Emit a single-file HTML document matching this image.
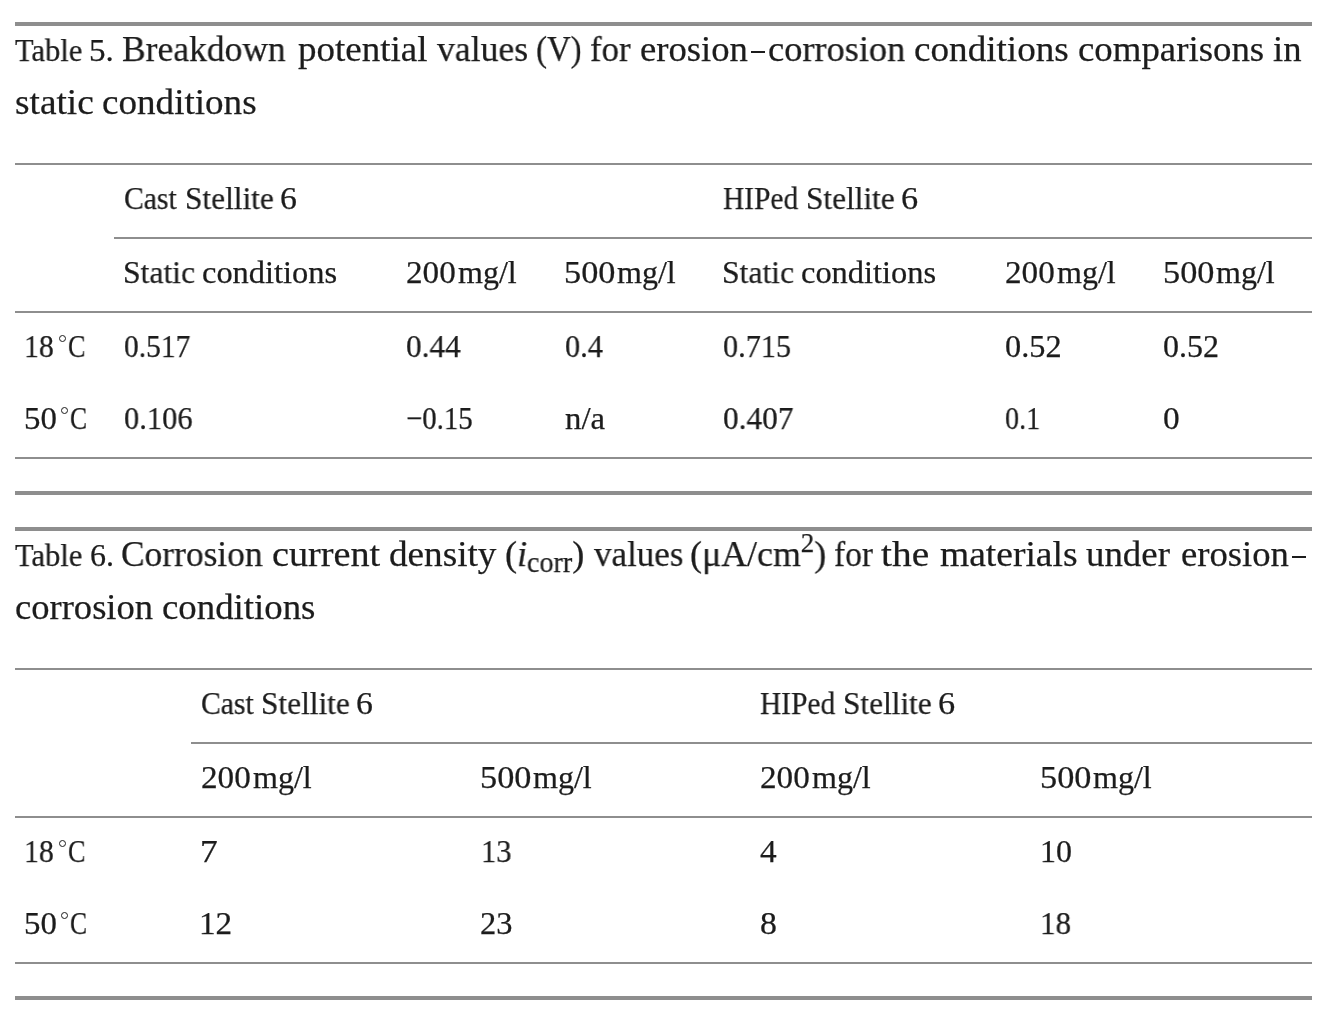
<!DOCTYPE html>
<html><head><meta charset="utf-8"><title>Tables</title><style>
html,body{margin:0;padding:0;background:#fff;width:1336px;height:1032px;overflow:hidden}
body{position:relative;font-family:"Liberation Serif",serif;color:#1c1c1c}
.t{position:absolute;white-space:pre;transform-origin:0 0}
.r{position:absolute}
.deg{position:absolute;width:7.3px;height:7.3px;box-sizing:border-box;border:1.5px solid #1c1c1c;border-radius:50%}

.t{-webkit-text-stroke:0.25px #1c1c1c;will-change:transform}
.th{display:inline-block;width:0.12em}
.sb{font-size:0.78em;position:relative;top:0.2em}
.sp{font-size:0.75em;position:relative;top:-0.5em}

</style></head><body>
<div class="r" style="left:750.5px;top:51.4px;width:14.80px;height:2.1px;background:#1c1c1c"></div>
<div class="r" style="left:1291.6px;top:556.4px;width:14.70px;height:2.1px;background:#1c1c1c"></div>
<div class="r" style="left:15px;top:22px;width:1297.00px;height:4px;background:#8e8e8e"></div>
<div class="r" style="left:15px;top:163px;width:1297.00px;height:2px;background:#8e8e8e"></div>
<div class="r" style="left:114px;top:237px;width:1198.00px;height:2px;background:#8e8e8e"></div>
<div class="r" style="left:15px;top:311px;width:1297.00px;height:2px;background:#8e8e8e"></div>
<div class="r" style="left:15px;top:457px;width:1297.00px;height:2px;background:#8e8e8e"></div>
<div class="r" style="left:15px;top:491px;width:1297.00px;height:4px;background:#8e8e8e"></div>
<div class="r" style="left:15px;top:527px;width:1297.00px;height:4px;background:#8e8e8e"></div>
<div class="r" style="left:15px;top:668px;width:1297.00px;height:2px;background:#8e8e8e"></div>
<div class="r" style="left:191px;top:742px;width:1121.00px;height:2px;background:#8e8e8e"></div>
<div class="r" style="left:15px;top:816px;width:1297.00px;height:2px;background:#8e8e8e"></div>
<div class="r" style="left:15px;top:962px;width:1297.00px;height:2px;background:#8e8e8e"></div>
<div class="r" style="left:15px;top:996px;width:1297.00px;height:4px;background:#8e8e8e"></div>
<span class="t" style="left:14.50px;top:34px;font-size:32px;line-height:32px;transform:scaleX(0.9529)">Table</span>
<span class="t" style="left:88.63px;top:34px;font-size:32px;line-height:32px;transform:scaleX(1.0350)">5.</span>
<span class="t" style="left:122.23px;top:31px;font-size:36.5px;line-height:36.5px;transform:scaleX(0.9725)">Breakdown</span>
<span class="t" style="left:298.00px;top:31px;font-size:36.5px;line-height:36.5px;transform:scaleX(1.0134)">potential</span>
<span class="t" style="left:437.00px;top:31px;font-size:36.5px;line-height:36.5px;transform:scaleX(0.9783)">values</span>
<span class="t" style="left:536.20px;top:31px;font-size:36.5px;line-height:36.5px;transform:scaleX(0.9000)">(V)</span>
<span class="t" style="left:590.45px;top:31px;font-size:36.5px;line-height:36.5px;transform:scaleX(0.9488)">for</span>
<span class="t" style="left:640.40px;top:31px;font-size:36.5px;line-height:36.5px;transform:scaleX(1.0047)">erosion</span>
<span class="t" style="left:767.50px;top:31px;font-size:36.5px;line-height:36.5px;transform:scaleX(0.9963)">corrosion</span>
<span class="t" style="left:913.98px;top:31px;font-size:36.5px;line-height:36.5px;transform:scaleX(1.0180)">conditions</span>
<span class="t" style="left:1077.69px;top:31px;font-size:36.5px;line-height:36.5px;transform:scaleX(1.0088)">comparisons</span>
<span class="t" style="left:1272.70px;top:31px;font-size:36.5px;line-height:36.5px;transform:scaleX(1.0037)">in</span>
<span class="t" style="left:14.58px;top:84px;font-size:36.5px;line-height:36.5px;transform:scaleX(1.0227)">static</span>
<span class="t" style="left:101.58px;top:84px;font-size:36.5px;line-height:36.5px;transform:scaleX(1.0167)">conditions</span>
<span class="t" style="left:124.47px;top:182px;font-size:32px;line-height:32px;transform:scaleX(0.9268)">Cast</span>
<span class="t" style="left:184.74px;top:182px;font-size:32px;line-height:32px;transform:scaleX(0.9795)">Stellite</span>
<span class="t" style="left:279.94px;top:182px;font-size:32px;line-height:32px;transform:scaleX(1.0571)">6</span>
<span class="t" style="left:723.28px;top:182px;font-size:32px;line-height:32px;transform:scaleX(0.9200)">HIPed</span>
<span class="t" style="left:805.64px;top:182px;font-size:32px;line-height:32px;transform:scaleX(0.9784)">Stellite</span>
<span class="t" style="left:900.83px;top:182px;font-size:32px;line-height:32px;transform:scaleX(1.0714)">6</span>
<span class="t" style="left:122.92px;top:256px;font-size:32px;line-height:32px;transform:scaleX(0.9886)">Static</span>
<span class="t" style="left:202.19px;top:256px;font-size:32px;line-height:32px;transform:scaleX(1.0137)">conditions</span>
<span class="t" style="left:406.26px;top:256px;font-size:32px;line-height:32px;transform:scaleX(1.0370)">200</span>
<span class="t" style="left:458.20px;top:256px;font-size:32px;line-height:32px;transform:scaleX(1.0018)">mg/l</span>
<span class="t" style="left:564.06px;top:256px;font-size:32px;line-height:32px;transform:scaleX(1.0711)">500</span>
<span class="t" style="left:616.70px;top:256px;font-size:32px;line-height:32px;transform:scaleX(1.0018)">mg/l</span>
<span class="t" style="left:721.92px;top:256px;font-size:32px;line-height:32px;transform:scaleX(0.9886)">Static</span>
<span class="t" style="left:801.19px;top:256px;font-size:32px;line-height:32px;transform:scaleX(1.0137)">conditions</span>
<span class="t" style="left:1004.96px;top:256px;font-size:32px;line-height:32px;transform:scaleX(1.0370)">200</span>
<span class="t" style="left:1056.90px;top:256px;font-size:32px;line-height:32px;transform:scaleX(1.0018)">mg/l</span>
<span class="t" style="left:1163.06px;top:256px;font-size:32px;line-height:32px;transform:scaleX(1.0711)">500</span>
<span class="t" style="left:1215.70px;top:256px;font-size:32px;line-height:32px;transform:scaleX(1.0018)">mg/l</span>
<span class="t" style="left:24.10px;top:330px;font-size:32px;line-height:32px;transform:scaleX(0.9321)">18</span>
<div class="deg" style="left:58.65px;top:334.95px"></div>
<span class="t" style="left:68.18px;top:330px;font-size:32px;line-height:32px;transform:scaleX(0.8158)">C</span>
<span class="t" style="left:23.84px;top:402px;font-size:32px;line-height:32px;transform:scaleX(1.0276)">50</span>
<div class="deg" style="left:60.75px;top:406.95px"></div>
<span class="t" style="left:70.30px;top:402px;font-size:32px;line-height:32px;transform:scaleX(0.8000)">C</span>
<span class="t" style="left:123.78px;top:330px;font-size:32px;line-height:32px;transform:scaleX(0.9214)">0.517</span>
<span class="t" style="left:406.42px;top:330px;font-size:32px;line-height:32px;transform:scaleX(0.9782)">0.44</span>
<span class="t" style="left:564.75px;top:330px;font-size:32px;line-height:32px;transform:scaleX(0.9487)">0.4</span>
<span class="t" style="left:722.55px;top:330px;font-size:32px;line-height:32px;transform:scaleX(0.9457)">0.715</span>
<span class="t" style="left:1004.69px;top:330px;font-size:32px;line-height:32px;transform:scaleX(1.0094)">0.52</span>
<span class="t" style="left:1163.00px;top:330px;font-size:32px;line-height:32px;transform:scaleX(0.9962)">0.52</span>
<span class="t" style="left:123.75px;top:402px;font-size:32px;line-height:32px;transform:scaleX(0.9529)">0.106</span>
<span class="t" style="left:405.60px;top:402px;font-size:32px;line-height:32px;transform:scaleX(0.9014)">&minus;0.15</span>
<span class="t" style="left:565.08px;top:402px;font-size:32px;line-height:32px;transform:scaleX(1.0237)">n/a</span>
<span class="t" style="left:722.52px;top:402px;font-size:32px;line-height:32px;transform:scaleX(0.9786)">0.407</span>
<span class="t" style="left:1004.82px;top:402px;font-size:32px;line-height:32px;transform:scaleX(0.8811)">0.1</span>
<span class="t" style="left:1162.96px;top:402px;font-size:32px;line-height:32px;transform:scaleX(1.0429)">0</span>
<span class="t" style="left:14.50px;top:539px;font-size:32px;line-height:32px;transform:scaleX(0.9529)">Table</span>
<span class="t" style="left:89.50px;top:539px;font-size:32px;line-height:32px;transform:scaleX(0.9952)">6.</span>
<span class="t" style="left:121.13px;top:536px;font-size:36.5px;line-height:36.5px;transform:scaleX(0.9697)">Corrosion</span>
<span class="t" style="left:272.35px;top:536px;font-size:36.5px;line-height:36.5px;transform:scaleX(1.0471)">current</span>
<span class="t" style="left:389.08px;top:536px;font-size:36.5px;line-height:36.5px;transform:scaleX(1.0192)">density</span>
<span class="t" style="left:504.63px;top:536px;font-size:36.5px;line-height:36.5px;transform:scaleX(0.9857)">(<i>i</i><span class=sb>corr</span>)</span>
<span class="t" style="left:593.50px;top:536px;font-size:36.5px;line-height:36.5px;transform:scaleX(0.9598)">values</span>
<span class="t" style="left:690.34px;top:536px;font-size:36.5px;line-height:36.5px;transform:scaleX(0.9822)">(&mu;A/cm<span class=sp>2</span>)</span>
<span class="t" style="left:833.59px;top:536px;font-size:36.5px;line-height:36.5px;transform:scaleX(0.9146)">for</span>
<span class="t" style="left:881.32px;top:536px;font-size:36.5px;line-height:36.5px;transform:scaleX(1.0791)">the</span>
<span class="t" style="left:939.97px;top:536px;font-size:36.5px;line-height:36.5px;transform:scaleX(1.0282)">materials</span>
<span class="t" style="left:1086.20px;top:536px;font-size:36.5px;line-height:36.5px;transform:scaleX(1.0096)">under</span>
<span class="t" style="left:1181.00px;top:536px;font-size:36.5px;line-height:36.5px;transform:scaleX(1.0047)">erosion</span>
<span class="t" style="left:14.80px;top:589px;font-size:36.5px;line-height:36.5px;transform:scaleX(1.0015)">corrosion</span>
<span class="t" style="left:162.09px;top:589px;font-size:36.5px;line-height:36.5px;transform:scaleX(1.0087)">conditions</span>
<span class="t" style="left:200.87px;top:687px;font-size:32px;line-height:32px;transform:scaleX(0.9268)">Cast</span>
<span class="t" style="left:261.14px;top:687px;font-size:32px;line-height:32px;transform:scaleX(0.9795)">Stellite</span>
<span class="t" style="left:356.34px;top:687px;font-size:32px;line-height:32px;transform:scaleX(1.0571)">6</span>
<span class="t" style="left:760.48px;top:687px;font-size:32px;line-height:32px;transform:scaleX(0.9200)">HIPed</span>
<span class="t" style="left:842.84px;top:687px;font-size:32px;line-height:32px;transform:scaleX(0.9784)">Stellite</span>
<span class="t" style="left:938.03px;top:687px;font-size:32px;line-height:32px;transform:scaleX(1.0714)">6</span>
<span class="t" style="left:200.76px;top:761px;font-size:32px;line-height:32px;transform:scaleX(1.0370)">200</span>
<span class="t" style="left:252.70px;top:761px;font-size:32px;line-height:32px;transform:scaleX(1.0018)">mg/l</span>
<span class="t" style="left:480.26px;top:761px;font-size:32px;line-height:32px;transform:scaleX(1.0711)">500</span>
<span class="t" style="left:532.90px;top:761px;font-size:32px;line-height:32px;transform:scaleX(1.0018)">mg/l</span>
<span class="t" style="left:760.36px;top:761px;font-size:32px;line-height:32px;transform:scaleX(1.0370)">200</span>
<span class="t" style="left:812.30px;top:761px;font-size:32px;line-height:32px;transform:scaleX(1.0018)">mg/l</span>
<span class="t" style="left:1040.26px;top:761px;font-size:32px;line-height:32px;transform:scaleX(1.0711)">500</span>
<span class="t" style="left:1092.90px;top:761px;font-size:32px;line-height:32px;transform:scaleX(1.0018)">mg/l</span>
<span class="t" style="left:24.10px;top:835px;font-size:32px;line-height:32px;transform:scaleX(0.9321)">18</span>
<div class="deg" style="left:58.65px;top:839.95px"></div>
<span class="t" style="left:68.18px;top:835px;font-size:32px;line-height:32px;transform:scaleX(0.8158)">C</span>
<span class="t" style="left:23.84px;top:907px;font-size:32px;line-height:32px;transform:scaleX(1.0276)">50</span>
<div class="deg" style="left:60.75px;top:911.95px"></div>
<span class="t" style="left:70.30px;top:907px;font-size:32px;line-height:32px;transform:scaleX(0.8000)">C</span>
<span class="t" style="left:199.58px;top:835px;font-size:32px;line-height:32px;transform:scaleX(1.1077)">7</span>
<span class="t" style="left:480.54px;top:835px;font-size:32px;line-height:32px;transform:scaleX(0.9536)">13</span>
<span class="t" style="left:760.36px;top:835px;font-size:32px;line-height:32px;transform:scaleX(1.0400)">4</span>
<span class="t" style="left:1040.40px;top:835px;font-size:32px;line-height:32px;transform:scaleX(1.0000)">10</span>
<span class="t" style="left:199.49px;top:907px;font-size:32px;line-height:32px;transform:scaleX(1.0370)">12</span>
<span class="t" style="left:480.29px;top:907px;font-size:32px;line-height:32px;transform:scaleX(1.0133)">23</span>
<span class="t" style="left:760.34px;top:907px;font-size:32px;line-height:32px;transform:scaleX(1.0571)">8</span>
<span class="t" style="left:1040.09px;top:907px;font-size:32px;line-height:32px;transform:scaleX(0.9714)">18</span>
</body></html>
